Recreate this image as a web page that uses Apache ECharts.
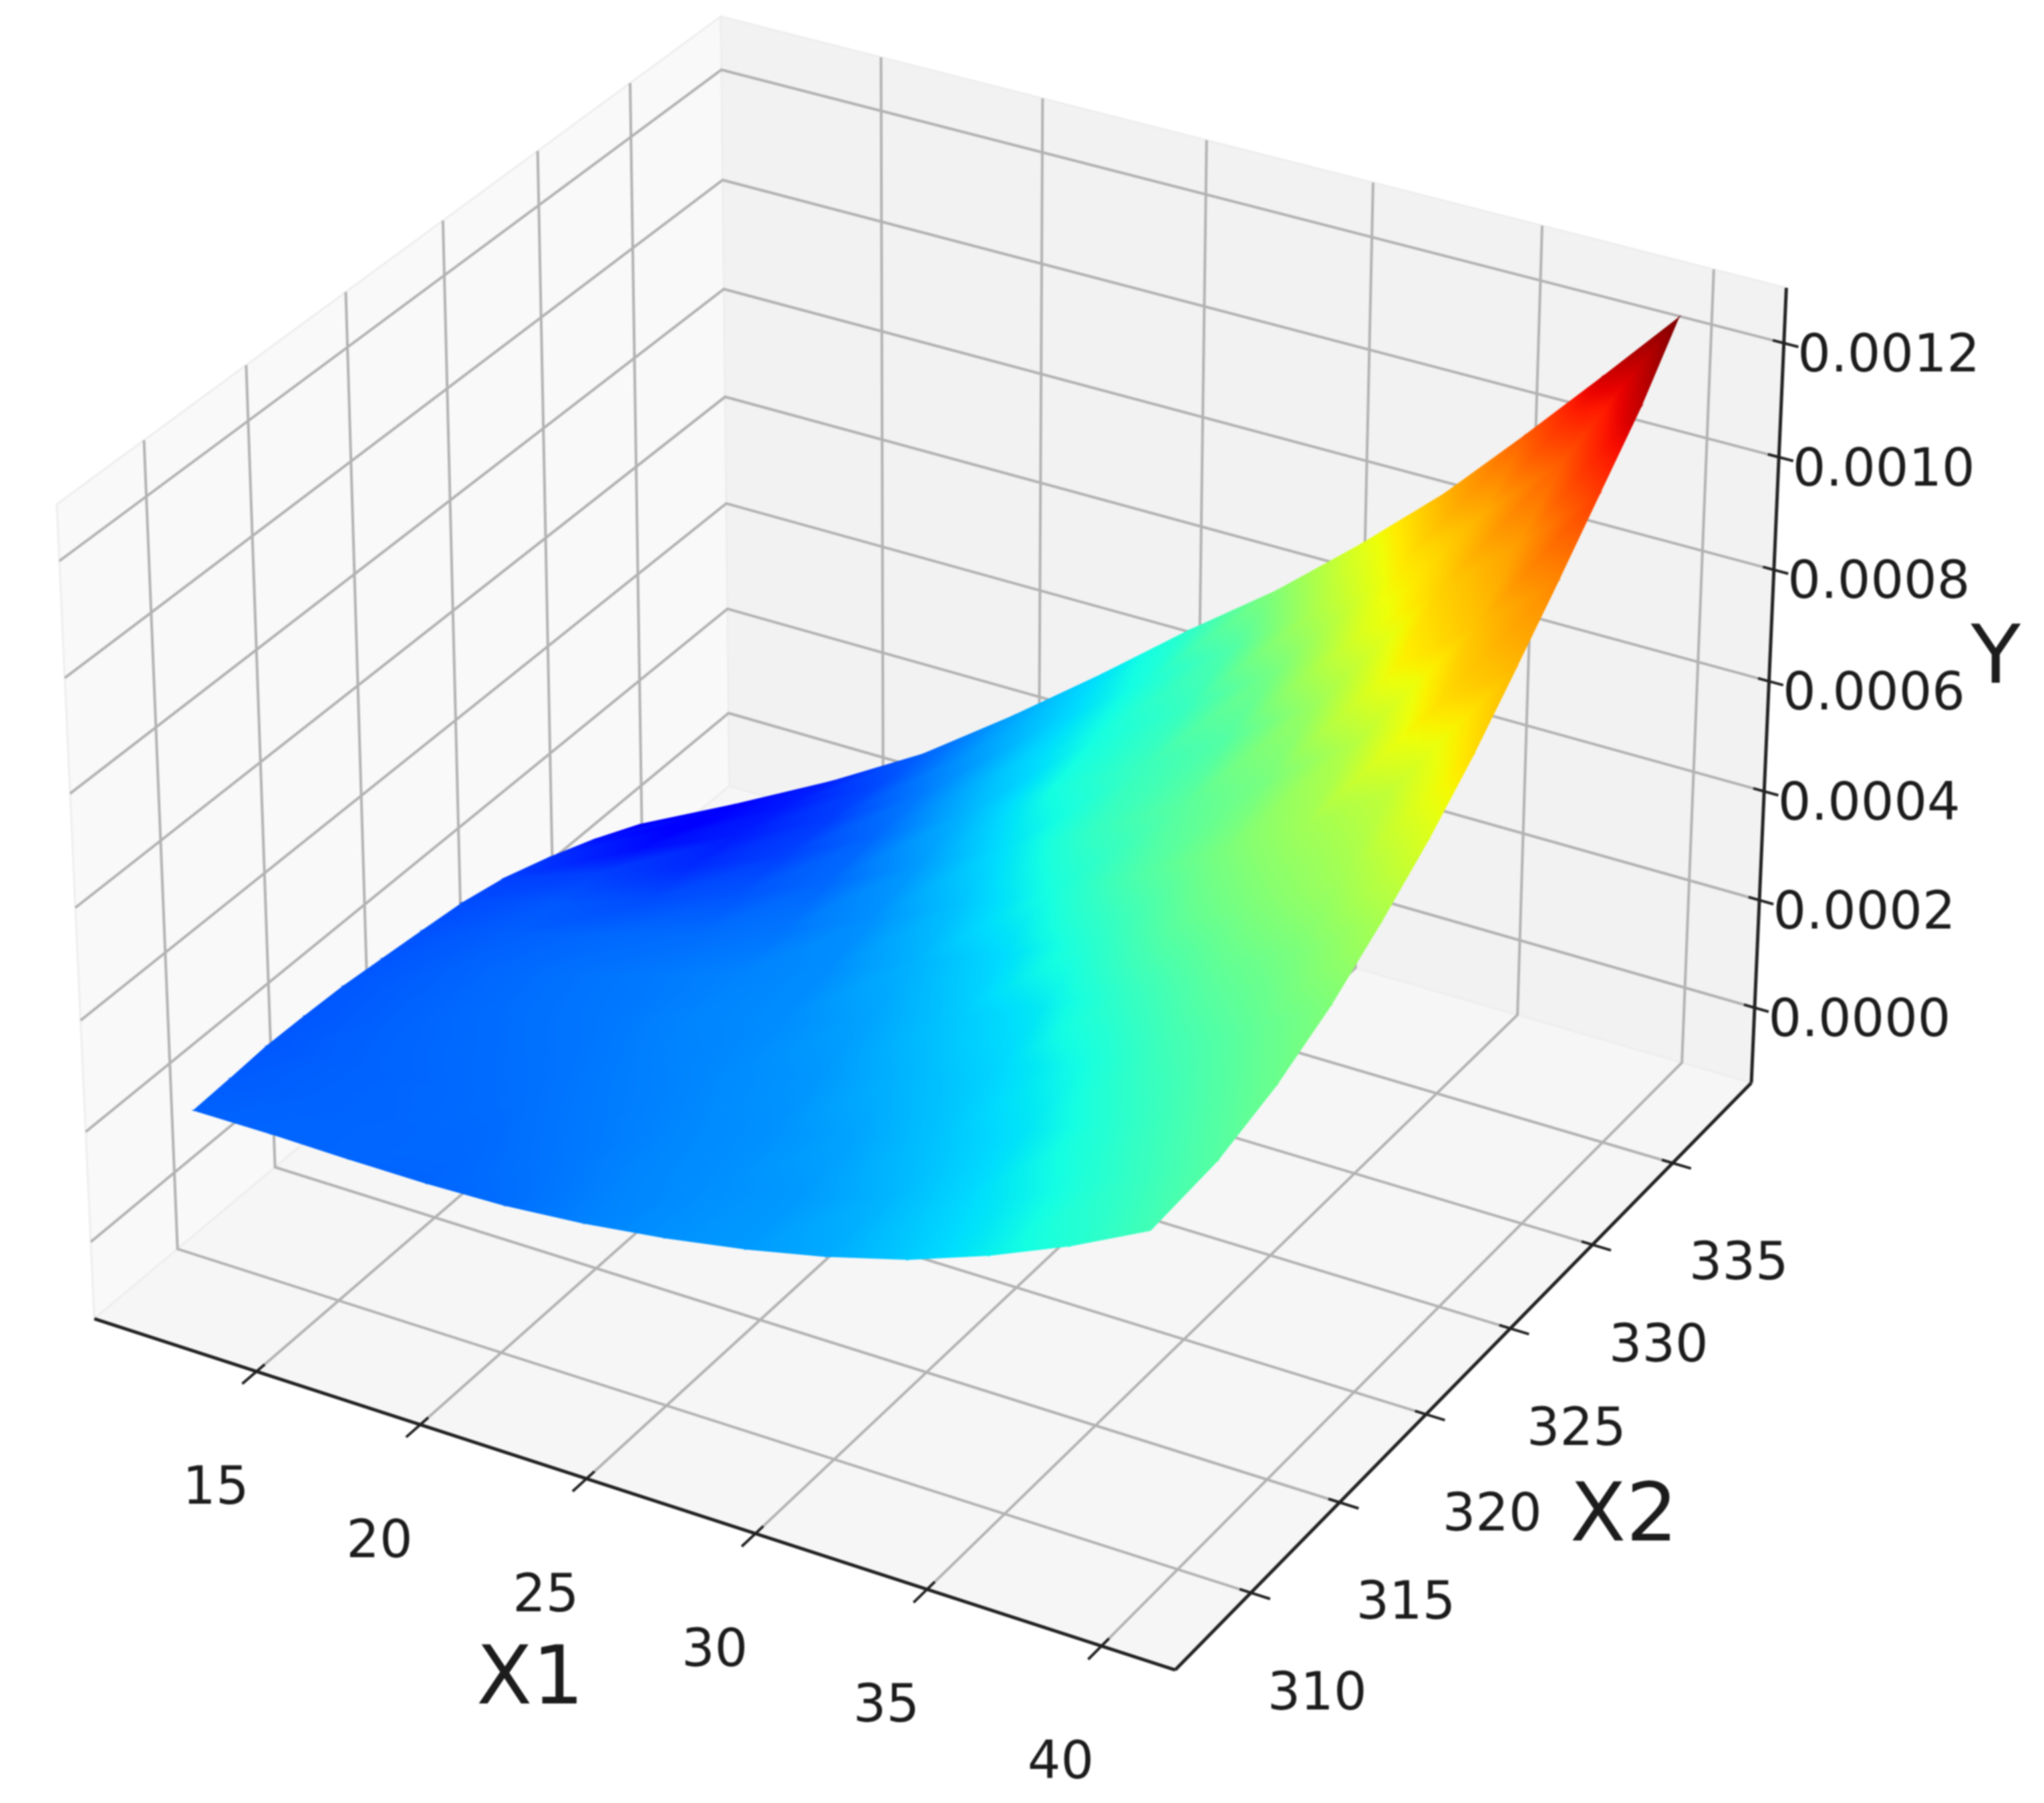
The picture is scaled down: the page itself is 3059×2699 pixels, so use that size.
<!DOCTYPE html>
<html><head><meta charset="utf-8"><style>html,body{margin:0;padding:0;background:#fff}#c{width:3059px;height:2699px;filter:blur(1px)}</style>
<script src="https://cdn.jsdelivr.net/npm/echarts@6/dist/echarts.min.js"></script></head><body><div id="c"></div>
<script>
const x1Ticks=[15,20,25,30,35,40];
const x2Ticks=[310,315,320,325,330,335];
const yTicks=[0,0.0002,0.0004,0.0006,0.0008,0.001,0.0012];
const x1Lim=[9.97,42.09];
const x2Lim=[305.83,340.03];
const yLim=[-0.000141,0.001296];
const colorRange=[-0.000105,0.00127];
const X1=[
[11.75,14.22,16.63,18.97,21.44,24.03,26.42,28.62,30.85,33.27,35.58,37.64,39.67],
[11.61,14.13,16.61,19.03,21.56,24.06,26.32,28.55,30.96,33.44,35.68,37.91,39.95],
[11.45,14.07,16.59,19.07,21.54,23.91,26.14,28.49,30.95,33.32,35.72,37.94,39.97],
[11.45,14.09,16.62,19.07,21.49,23.76,25.97,28.46,30.84,33.30,35.72,37.80,39.76],
[11.52,14.12,16.65,19.07,21.40,23.51,25.81,28.38,30.73,33.40,35.71,37.69,39.81],
[11.62,14.18,16.68,19.02,21.18,23.23,25.72,28.28,30.97,33.69,35.83,37.79,40.04],
[11.68,14.18,16.54,18.70,20.70,22.98,25.61,28.48,31.24,33.66,35.72,37.52,40.13],
[11.69,14.07,15.97,18.08,20.22,22.81,25.71,28.59,30.81,32.83,35.19,38.02,39.72],
[11.74,13.77,15.33,17.67,20.06,22.96,25.83,28.14,30.01,32.76,35.77,37.62,39.52],
[11.89,13.06,15.27,17.70,20.37,23.20,25.48,27.61,30.15,33.40,35.59,37.29,39.80],
[11.82,13.11,15.51,18.08,20.86,23.14,25.26,27.70,30.87,33.61,35.36,37.54,40.39],
[11.66,13.74,16.06,18.82,21.18,23.31,25.29,28.42,31.36,33.85,35.91,38.46,40.07]];
const X2=[
[308.33,308.21,308.15,308.18,308.00,307.63,307.61,307.92,308.15,308.04,308.07,308.51,308.90],
[310.39,310.37,310.39,310.47,310.35,310.29,310.65,311.05,311.11,311.00,311.27,311.48,311.97],
[312.49,312.49,312.59,312.74,312.86,313.13,313.68,313.99,314.07,314.27,314.31,314.61,315.19],
[314.43,314.53,314.75,315.07,315.40,315.95,316.63,316.80,317.10,317.20,317.24,317.86,318.63],
[316.31,316.58,316.93,317.41,317.98,318.90,319.50,319.60,320.01,319.73,320.01,320.84,321.31],
[318.20,318.65,319.15,319.87,320.82,321.95,322.25,322.44,322.24,321.89,322.49,323.36,323.54],
[320.20,320.84,321.67,322.80,324.13,324.91,325.00,324.64,324.33,324.56,325.30,326.49,325.89],
[322.31,323.24,324.96,326.27,327.44,327.70,327.34,326.97,327.70,328.74,328.88,327.91,329.18],
[324.46,326.07,328.47,329.50,330.26,329.99,329.68,330.42,331.87,331.45,330.19,331.19,332.02],
[326.60,329.75,331.13,332.05,332.35,332.20,332.99,334.12,334.25,332.75,333.10,334.36,333.79],
[329.17,332.21,333.34,334.04,334.13,335.02,336.13,336.67,335.46,334.93,336.13,336.31,334.88],
[332.01,333.75,335.02,335.40,336.25,337.40,338.74,337.87,337.04,336.91,337.36,336.58,337.74]];
const Y=[
[197e-6,203e-6,204e-6,203e-6,215e-6,243e-6,263e-6,275e-6,297e-6,341e-6,391e-6,433e-6,486e-6],
[191e-6,199e-6,204e-6,208e-6,225e-6,248e-6,261e-6,275e-6,311e-6,361e-6,408e-6,464e-6,518e-6],
[185e-6,198e-6,206e-6,216e-6,233e-6,250e-6,263e-6,289e-6,332e-6,376e-6,439e-6,498e-6,554e-6],
[183e-6,200e-6,211e-6,222e-6,240e-6,255e-6,272e-6,312e-6,353e-6,409e-6,479e-6,533e-6,588e-6],
[184e-6,201e-6,216e-6,228e-6,247e-6,257e-6,287e-6,337e-6,383e-6,462e-6,530e-6,583e-6,655e-6],
[182e-6,201e-6,218e-6,231e-6,244e-6,257e-6,308e-6,363e-6,441e-6,530e-6,593e-6,652e-6,742e-6],
[177e-6,196e-6,209e-6,215e-6,225e-6,262e-6,331e-6,415e-6,505e-6,581e-6,647e-6,702e-6,826e-6],
[168e-6,184e-6,171e-6,181e-6,208e-6,275e-6,371e-6,464e-6,524e-6,579e-6,676e-6,816e-6,880e-6],
[153e-6,152e-6,123e-6,154e-6,208e-6,307e-6,410e-6,471e-6,516e-6,632e-6,787e-6,865e-6,952e-6],
[133e-6,83e-6,104e-6,150e-6,233e-6,338e-6,412e-6,469e-6,571e-6,735e-6,842e-6,920e-6,1062e-6],
[93e-6,58e-6,100e-6,165e-6,268e-6,346e-6,420e-6,509e-6,668e-6,807e-6,893e-6,1017e-6,1194e-6],
[39e-6,64e-6,111e-6,200e-6,288e-6,369e-6,447e-6,596e-6,751e-6,885e-6,1008e-6,1171e-6,1270e-6]];

const S=16219,OX=1403,OY=1205;
const ar=[1.1429,1.1429,0.8571],R=[.5714,.5714,.4286];
const U=[.8660254,.5,0],V=[-.25,.4330127,.8660254],W=[.4330127,-.75,.5];
function projN(a,b,c){const d=[a*ar[0]-R[0],b*ar[1]-R[1],c*ar[2]-R[2]];
 const dot=p=>p[0]*d[0]+p[1]*d[1]+p[2]*d[2];const w=10-dot(W);return [dot(U)/w,dot(V)/w,dot(W)];}
const nx=v=>(v-x1Lim[0])/(x1Lim[1]-x1Lim[0]),ny=v=>(v-x2Lim[0])/(x2Lim[1]-x2Lim[0]),nz=v=>(v-yLim[0])/(yLim[1]-yLim[0]);
function jet(t){const cl=v=>Math.max(0,Math.min(1,v));
 const r=cl(t<.35?0:t<.66?(t-.35)/.31:t<.89?1:1-(t-.89)/.11*.5);
 const g=cl(t<.125?0:t<.375?(t-.125)/.25:t<.64?1:t<.91?1-(t-.64)/.27:0);
 const b=cl(t<.11?.5+t/.11*.5:t<.34?1:t<.65?1-(t-.34)/.31:0);
 return `rgb(${Math.round(r*255)},${Math.round(g*255)},${Math.round(b*255)})`;}
const toT=v=>(v-colorRange[0])/(colorRange[1]-colorRange[0]);
const panes=[[[0,0,0],[0,1,0],[0,1,1],[0,0,1],'#f9f9f9'],[[0,1,0],[1,1,0],[1,1,1],[0,1,1],'#f2f2f2'],[[0,0,0],[1,0,0],[1,1,0],[0,1,0],'#f6f6f6']];
const gridPolys=[];
x1Ticks.forEach(v=>{const a=nx(v);gridPolys.push([[a,0,0],[a,1,0],[a,1,1]]);});
x2Ticks.forEach(v=>{const b=ny(v);gridPolys.push([[1,b,0],[0,b,0],[0,b,1]]);});
yTicks.forEach(v=>{const c=nz(v);gridPolys.push([[0,0,c],[0,1,c],[1,1,c]]);});
const axisPolys=[[[0,0,0],[1,0,0]],[[1,0,0],[1,1,0]],[[1,1,0],[1,1,1]]];
const tickPolys=[];
x1Ticks.forEach(v=>{const a=nx(v);tickPolys.push([[a,.012,0],[a,-.021,0]]);});
x2Ticks.forEach(v=>{const b=ny(v);tickPolys.push([[.99,b,0],[1.017,b,0]]);});
yTicks.forEach(v=>{const c=nz(v);tickPolys.push([[.99,1,c],[1.013,1,c]]);});
const labels=[];
x1Ticks.forEach(v=>labels.push([String(v),[nx(v),0,0],-61,178,78]));
x2Ticks.forEach(v=>labels.push([String(v),[1,ny(v),0],99,154,78]));
yTicks.forEach(v=>labels.push([v.toFixed(4),[1,1,nz(v)],157,22,78]));
labels.push(['X1',[.5,0,0],-136,288,122],['X2',[1,.5,0],222,233,122],['Y',[1,1,.5],340,-48,122]);
const NR=Y.length,NC=Y[0].length,tris=[];
for(let r=0;r<NR-1;r++)for(let c=0;c<NC-1;c++){tris.push([[r,c],[r,c+1],[r+1,c+1]],[[r,c],[r+1,c+1],[r+1,c]]);}
const nodeP=([r,c])=>projN(nx(X1[r][c]),ny(X2[r][c]),nz(Y[r][c]));
const triD=tris.map(t=>t.reduce((s,n)=>s+nodeP(n)[2],0));
const order=tris.map((_,i)=>i).sort((i,j)=>triD[i]-triD[j]);
function layer(list,fn){return {type:'custom',coordinateSystem:'cartesian2d',silent:true,animation:false,clip:false,data:list.map((_,i)=>[0,0,i]),encode:{x:0,y:1},renderItem:(p,api)=>fn(list[p.dataIndex],api)};}
const c2=(api,q)=>{const P=projN(q[0],q[1],q[2]);return api.coord([P[0],P[1]]);};
const series=[
 layer(panes,(P,api)=>({type:'polygon',shape:{points:P.slice(0,4).map(q=>c2(api,q))},style:{fill:P[4],stroke:'#eeeeee',lineWidth:3}})),
 layer(gridPolys,(P,api)=>({type:'polyline',shape:{points:P.map(q=>c2(api,q))},style:{stroke:'#b2b2b2',lineWidth:4,fill:null}})),
 layer(order.map(i=>tris[i]),(T,api)=>{
  const p=T.map(n=>{const q=nodeP(n);return api.coord([q[0],q[1]]);});const t=T.map(([r,c])=>toT(Y[r][c]));
  const ax=p[1][0]-p[0][0],ay=p[1][1]-p[0][1],bx=p[2][0]-p[0][0],by=p[2][1]-p[0][1],det=ax*by-ay*bx;
  const d1=t[1]-t[0],d2=t[2]-t[0];const gx=(d1*by-d2*ay)/det,gy=(ax*d2-bx*d1)/det,gg=gx*gx+gy*gy;
  let fill;
  if(gg<1e-14)fill=jet(t[0]);else{const lo=Math.min(...t),hi=Math.max(...t);
   const x0=p[0][0]+gx*(lo-t[0])/gg,y0=p[0][1]+gy*(lo-t[0])/gg,x1=p[0][0]+gx*(hi-t[0])/gg,y1=p[0][1]+gy*(hi-t[0])/gg;
   const st=[];for(let i=0;i<=8;i++)st.push({offset:i/8,color:jet(lo+(hi-lo)*i/8)});
   fill=new echarts.graphic.LinearGradient(x0,y0,x1,y1,st,true);}
  return {type:'polygon',shape:{points:p},style:{fill:fill,stroke:fill,lineWidth:1.5}};}),
 layer(axisPolys,(P,api)=>({type:'polyline',shape:{points:P.map(q=>c2(api,q))},style:{stroke:'#222',lineWidth:5,fill:null}})),
 layer(tickPolys,(P,api)=>({type:'polyline',shape:{points:P.map(q=>c2(api,q))},style:{stroke:'#222',lineWidth:4,fill:null}})),
 layer(labels,(L,api)=>{const p=c2(api,L[1]);return {type:'text',x:p[0]+L[2],y:p[1]+L[3],style:{text:L[0],fontFamily:'DejaVu Sans',fontSize:L[4],fill:'#1c1c1c',align:'center',verticalAlign:'middle'}};})
];
const chart=echarts.init(document.getElementById('c'),null,{renderer:'canvas'});
chart.setOption({animation:false,backgroundColor:'#fff',grid:{left:0,right:0,top:0,bottom:0},
 xAxis:{type:'value',show:false,min:-OX/S,max:(3059-OX)/S},yAxis:{type:'value',show:false,min:-(2699-OY)/S,max:OY/S},series});
</script></body></html>
